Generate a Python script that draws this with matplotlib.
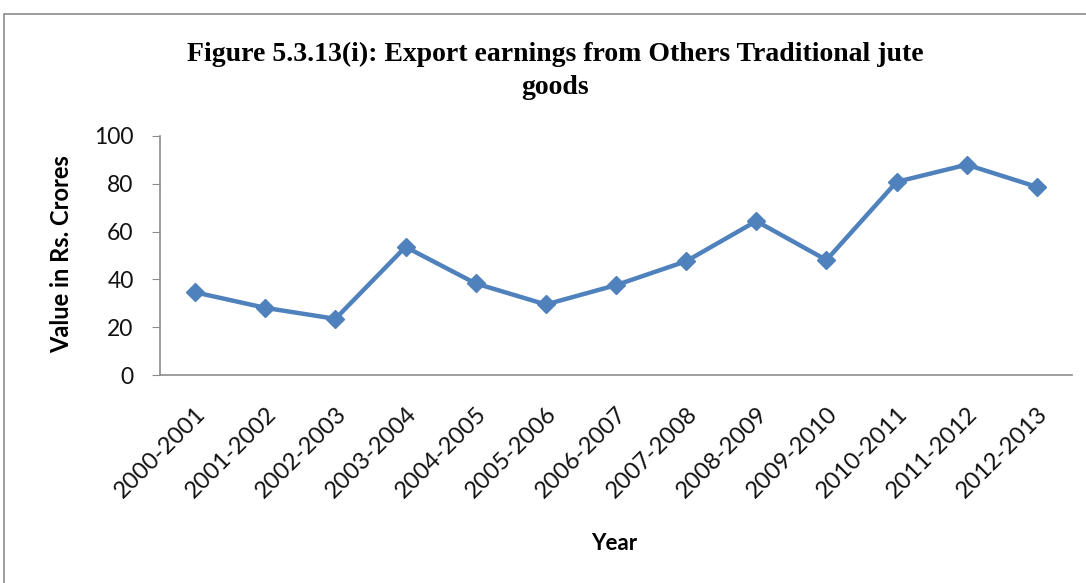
import matplotlib
matplotlib.use("Agg")
import matplotlib.pyplot as plt
from matplotlib.patches import Rectangle

years = ["2000-2001", "2001-2002", "2002-2003", "2003-2004", "2004-2005", "2005-2006",
         "2006-2007", "2007-2008", "2008-2009", "2009-2010", "2010-2011", "2011-2012", "2012-2013"]
values = [34.6, 28.1, 23.5, 53.6, 38.3, 29.5, 37.6, 47.6, 64.4, 48.1, 80.8, 88.0, 78.7]
yticks = [0, 20, 40, 60, 80, 100]

fig = plt.figure(figsize=(10.86, 5.83), dpi=100)
fig.patches.append(Rectangle((4/1086, -0.1), 1.2, 1 - 14/583 + 0.1, transform=fig.transFigure,
                             fill=False, edgecolor="#8c8c8c", linewidth=1.2))

ax = fig.add_axes([160/1086, 1 - 375/583, (1072 - 160)/1086, (375 - 136)/583])
x = list(range(len(years)))
ax.plot(x, values, color="#4F81BD", linewidth=3.2, marker="D", markersize=9,
        markerfacecolor="#4F81BD", markeredgecolor="#4F81BD")
ax.set_xlim(-0.5, len(years) - 0.5)
ax.set_ylim(0, 100)
ax.set_yticks(yticks)
ax.set_xticks(x)
ax.set_xticklabels(years, rotation=45, ha="right", rotation_mode="anchor",
                   fontsize=17, family="Lato", color="#111111")
for lab in ax.get_yticklabels():
    lab.set_fontsize(16.5)
    lab.set_family("Lato")
    lab.set_color("#111111")
ax.tick_params(axis="x", length=0, pad=20)
ax.tick_params(axis="y", length=6, color="#8c8c8c", pad=13)
for s in ["top", "right"]:
    ax.spines[s].set_visible(False)
for s in ["left", "bottom"]:
    ax.spines[s].set_color("#8c8c8c")
    ax.spines[s].set_linewidth(1.2)

fig.text(62/1086, 1 - 254/583, "Value in Rs. Crores", fontsize=17, fontweight="bold", family="Lato",
         rotation=90, ha="center", va="center")
fig.text(614/1086, 1 - 544/583, "Year", fontsize=16, fontweight="bold", family="Lato",
         ha="center", va="center")
fig.text(555/1086, 1 - 71/583, "Figure 5.3.13(i): Export earnings from Others Traditional jute\ngoods",
         fontsize=20, fontweight="bold", family="Liberation Serif", ha="center", va="center",
         linespacing=1.45)

fig.savefig("out.png", dpi=100)
